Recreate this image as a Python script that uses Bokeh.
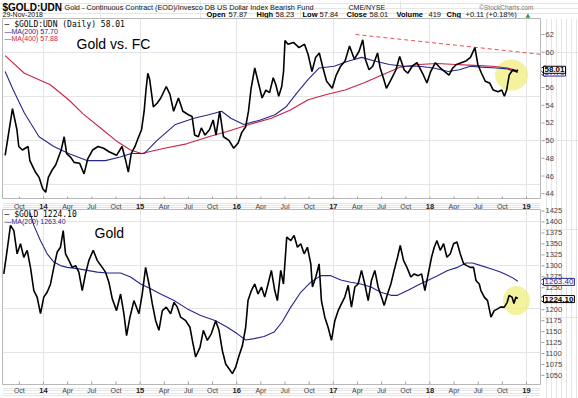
from bokeh.plotting import figure
from bokeh.layouts import column, row
from bokeh.models import Range1d, Label
from bokeh.core.properties import value
from bokeh.embed import file_html
from bokeh.resources import INLINE

# ---------------- data ----------------
ratio_t = [2013.603, 2013.679, 2013.725, 2013.744, 2013.782, 2013.840, 2013.859, 2013.916, 2013.954, 2013.992,
           2014.023, 2014.050, 2014.088, 2014.126, 2014.183, 2014.214, 2014.240, 2014.279, 2014.317, 2014.374,
           2014.420, 2014.458, 2014.508, 2014.565, 2014.622, 2014.679, 2014.756, 2014.813, 2014.851, 2014.878,
           2014.908, 2014.947, 2014.985, 2015.015, 2015.042, 2015.061, 2015.080, 2015.099, 2015.137, 2015.176,
           2015.214, 2015.271, 2015.309, 2015.347, 2015.397, 2015.443, 2015.500, 2015.538, 2015.565, 2015.603,
           2015.634, 2015.672, 2015.718, 2015.756, 2015.786, 2015.824, 2015.863, 2015.920, 2015.969, 2016.015,
           2016.053, 2016.092, 2016.122, 2016.149, 2016.187, 2016.225, 2016.263, 2016.302, 2016.340, 2016.378,
           2016.405, 2016.435, 2016.466, 2016.485, 2016.500, 2016.531, 2016.588, 2016.645, 2016.702, 2016.740,
           2016.779, 2016.817, 2016.855, 2016.893, 2016.931, 2016.989, 2017.027, 2017.076, 2017.122, 2017.168,
           2017.218, 2017.267, 2017.305, 2017.332, 2017.370, 2017.408, 2017.458, 2017.485, 2017.523, 2017.550,
           2017.599, 2017.649, 2017.687, 2017.733, 2017.771, 2017.817, 2017.866, 2017.924, 2017.969, 2018.008,
           2018.057, 2018.107, 2018.153, 2018.198, 2018.237, 2018.275, 2018.324, 2018.374, 2018.420, 2018.466,
           2018.496, 2018.534, 2018.573, 2018.618, 2018.656, 2018.706, 2018.744, 2018.771, 2018.794, 2018.821,
           2018.859, 2018.897, 2018.910]
ratio_v = [48.3, 53.6, 51.2, 49.3, 48.9, 49.3, 47.7, 46.4, 45.8, 44.5,
           44.1, 45.8, 46.6, 47.2, 48.9, 50.4, 48.5, 48.1, 47.5, 47.4,
           46.2, 47.9, 48.9, 49.3, 49.1, 48.7, 48.3, 49.3, 47.7, 46.4,
           48.5, 49.3, 50.4, 51.2, 53.3, 55.7, 57.6, 56.9, 53.8, 54.2,
           54.8, 56.1, 55.2, 53.3, 54.8, 53.3, 52.9, 52.7, 50.6, 50.4,
           51.4, 50.6, 51.2, 52.3, 50.6, 53.3, 50.4, 50.0, 49.1, 49.7,
           50.9, 51.5, 53.3, 55.9, 58.2, 56.5, 54.8, 55.7, 55.4, 57.1,
           56.3, 55.0, 56.1, 57.8, 61.3, 60.9, 61.1, 60.5, 60.9, 59.7,
           57.8, 59.4, 59.9, 58.2, 56.7, 55.9, 57.3, 58.4, 59.0, 60.7,
           59.2, 60.1, 61.4, 59.2, 58.0, 58.4, 59.9, 58.2, 56.9, 55.9,
           56.9, 58.0, 59.5, 58.0, 57.6, 58.4, 58.8, 57.6, 56.5, 57.8,
           58.8, 58.2, 57.8, 57.4, 58.2, 58.6, 58.8, 59.0, 59.4, 60.5,
           58.6, 57.6, 56.7, 56.5, 55.7, 55.5, 55.7, 55.0, 55.7, 57.4,
           58.0, 57.8, 58.01]

ma200_t = [2013.603, 2013.687, 2013.802, 2013.954, 2014.107, 2014.260, 2014.450, 2014.641, 2014.794, 2014.908,
           2015.042, 2015.176, 2015.366, 2015.557, 2015.710, 2015.844, 2015.939, 2016.073, 2016.244, 2016.397,
           2016.511, 2016.626, 2016.740, 2016.855, 2017.008, 2017.160, 2017.294, 2017.427, 2017.580, 2017.733,
           2017.885, 2018.038, 2018.191, 2018.305, 2018.420, 2018.534, 2018.687, 2018.802, 2018.910]
ma200_v = [57.8, 55.7, 53.1, 50.4, 49.3, 48.5, 47.7, 47.7, 48.1, 48.5,
           48.5, 50.0, 51.8, 52.5, 52.9, 53.3, 52.5, 51.8, 52.3, 52.9,
           53.8, 55.4, 56.9, 58.2, 58.4, 59.0, 59.4, 59.0, 58.6, 58.4,
           58.4, 58.2, 57.8, 58.0, 58.4, 58.3, 58.2, 58.1, 57.70]

ma400_t = [2013.603, 2013.802, 2014.070, 2014.260, 2014.410, 2014.590, 2014.770, 2014.900, 2015.015, 2015.252,
           2015.481, 2015.710, 2015.901, 2016.130, 2016.359, 2016.550, 2016.740, 2016.931, 2017.122, 2017.313,
           2017.504, 2017.695, 2017.885, 2018.076, 2018.267, 2018.458, 2018.649, 2018.802, 2018.910]
ma400_v = [59.6, 57.6, 56.3, 54.6, 53.0, 51.4, 49.8, 48.9, 48.5, 49.1,
           49.6, 50.4, 51.0, 51.8, 52.5, 53.4, 54.6, 55.2, 55.7, 56.5,
           57.4, 58.3, 58.6, 58.7, 58.6, 58.5, 58.4, 58.2, 57.88]

trend_t = [2017.23, 2019.145]
trend_v = [62.0, 59.75]

gold_t = [2013.589, 2013.623, 2013.658, 2013.693, 2013.727, 2013.762, 2013.796, 2013.831, 2013.865, 2013.900,
          2013.934, 2013.969, 2014.003, 2014.038, 2014.073, 2014.107, 2014.142, 2014.176, 2014.204, 2014.228,
          2014.263, 2014.297, 2014.332, 2014.366, 2014.401, 2014.435, 2014.470, 2014.515, 2014.556, 2014.608,
          2014.642, 2014.677, 2014.712, 2014.756, 2014.798, 2014.832, 2014.860, 2014.895, 2014.936, 2014.988,
          2015.022, 2015.057, 2015.092, 2015.126, 2015.161, 2015.195, 2015.230, 2015.271, 2015.316, 2015.351,
          2015.385, 2015.420, 2015.472, 2015.516, 2015.541, 2015.575, 2015.620, 2015.655, 2015.696, 2015.737,
          2015.782, 2015.817, 2015.851, 2015.886, 2015.921, 2015.955, 2015.990, 2016.024, 2016.059, 2016.093,
          2016.117, 2016.152, 2016.187, 2016.221, 2016.256, 2016.290, 2016.325, 2016.359, 2016.394, 2016.421,
          2016.456, 2016.484, 2016.518, 2016.560, 2016.594, 2016.629, 2016.663, 2016.698, 2016.732, 2016.767,
          2016.784, 2016.819, 2016.853, 2016.877, 2016.912, 2016.946, 2016.981, 2017.016, 2017.050, 2017.085,
          2017.119, 2017.154, 2017.188, 2017.223, 2017.257, 2017.292, 2017.326, 2017.361, 2017.395, 2017.430,
          2017.464, 2017.499, 2017.527, 2017.561, 2017.596, 2017.630, 2017.665, 2017.693, 2017.727, 2017.762,
          2017.803, 2017.838, 2017.879, 2017.914, 2017.948, 2017.983, 2018.017, 2018.045, 2018.073, 2018.107,
          2018.142, 2018.176, 2018.211, 2018.245, 2018.280, 2018.314, 2018.349, 2018.383, 2018.418, 2018.452,
          2018.477, 2018.511, 2018.528, 2018.563, 2018.597, 2018.632, 2018.666, 2018.701, 2018.729, 2018.770,
          2018.800, 2018.820, 2018.850, 2018.870, 2018.890, 2018.910]
gold_v = [1280, 1333, 1391, 1379, 1326, 1349, 1318, 1334, 1295, 1242,
          1227, 1189, 1227, 1238, 1257, 1295, 1330, 1341, 1379, 1326,
          1311, 1295, 1299, 1284, 1242, 1280, 1311, 1334, 1311, 1295,
          1284, 1261, 1223, 1196, 1234, 1189, 1139, 1181, 1219, 1189,
          1234, 1295, 1257, 1212, 1173, 1151, 1196, 1204, 1189, 1215,
          1204, 1181, 1173, 1158, 1128, 1090, 1112, 1151, 1128, 1143,
          1173, 1151, 1105, 1074, 1063, 1052, 1067, 1093, 1116, 1158,
          1219, 1242, 1257, 1234, 1250, 1227, 1257, 1288, 1242, 1219,
          1288, 1257, 1364, 1356, 1368, 1341, 1349, 1326, 1341, 1303,
          1250, 1273, 1303, 1219, 1181, 1158, 1128, 1173, 1196, 1212,
          1227, 1254, 1204, 1250, 1257, 1288, 1257, 1219, 1265, 1288,
          1250, 1227, 1208, 1234, 1257, 1288, 1318, 1345, 1311, 1295,
          1273, 1280, 1276, 1280, 1242, 1280, 1318, 1341, 1356, 1334,
          1349, 1318, 1326, 1349, 1353, 1326, 1303, 1299, 1295, 1295,
          1265, 1257, 1242, 1227, 1219, 1181, 1196, 1200, 1204, 1204,
          1215, 1231, 1227, 1212, 1227, 1224.10]

gma_t = [2013.860, 2013.900, 2013.969, 2014.038, 2014.107, 2014.176, 2014.245, 2014.349, 2014.453, 2014.556,
         2014.660, 2014.798, 2014.902, 2015.005, 2015.109, 2015.212, 2015.351, 2015.489, 2015.627, 2015.782,
         2015.903, 2016.007, 2016.093, 2016.180, 2016.283, 2016.387, 2016.470, 2016.560, 2016.663, 2016.767,
         2016.870, 2016.974, 2017.078, 2017.181, 2017.285, 2017.389, 2017.492, 2017.596, 2017.665, 2017.769,
         2017.873, 2017.976, 2018.079, 2018.183, 2018.287, 2018.373, 2018.442, 2018.528, 2018.632, 2018.736,
         2018.850, 2018.910]
gma_v = [1420, 1391, 1356, 1326, 1307, 1299, 1295, 1292, 1288, 1284,
         1282, 1282, 1273, 1257, 1246, 1234, 1219, 1200, 1185, 1173,
         1158, 1143, 1129, 1132, 1137, 1147, 1170, 1204, 1238, 1261,
         1276, 1276, 1266, 1261, 1257, 1250, 1238, 1231, 1231, 1242,
         1254, 1265, 1276, 1288, 1295, 1305, 1305, 1299, 1292, 1284,
         1272, 1263.40]

tick_t = [2013.75, 2014.00, 2014.25, 2014.50, 2014.75, 2015.00, 2015.25, 2015.50, 2015.75, 2016.00, 2016.25,
          2016.50, 2016.75, 2017.00, 2017.25, 2017.50, 2017.75, 2018.00, 2018.25, 2018.50, 2018.75, 2019.00]
tick_lbl = ["Oct", "14", "Apr", "Jul", "Oct", "15", "Apr", "Jul", "Oct", "16", "Apr",
            "Jul", "Oct", "17", "Apr", "Jul", "Oct", "18", "Apr", "Jul", "Oct", "19"]
top_yticks = [44, 46, 48, 50, 52, 54, 56, 58, 60, 62]
bot_yticks = [1050, 1075, 1100, 1125, 1150, 1175, 1200, 1225, 1250, 1275, 1300, 1325, 1350, 1375, 1400, 1425]

hl_top_t, hl_top_v = [2018.845], [57.4]
hl_bot_t, hl_bot_v = [2018.896], [1219]

# ---------------- layout constants ----------------
X0, X1 = 2013.5756, 2019.1449
W, H = 578, 398
HDR_H = 18
MAIN_W = 541               # frame x 2..540
SIDE_W = W - MAIN_W        # right label column
TOP_H, STRIP1_H, BOT_H, STRIP2_H = 181, 10, 176, 13
BODY_H = TOP_H + STRIP1_H + BOT_H + STRIP2_H
TOP_Y = (43.29, 63.81)           # frame 18..199
BOT_Y = (1027.1, 1427.3)         # frame 209..384
SIDE_TOP_Y = (20.84, 63.81)      # same scale as the top frame, over the whole side column (18..398)
SIDE_BOT_Y = (997.4, 1864.0)     # same scale as the bottom frame, over the whole side column

SANS = "Liberation Sans"
MONO = "DejaVu Sans Mono"
NAVY = "#26268c"
RED = "#cc2244"
TICK = "#a0a0a0"


def bare(width, height, xr, yr, **borders):
    b = dict(min_border_left=0, min_border_right=0, min_border_top=0, min_border_bottom=0)
    b.update(borders)
    p = figure(width=width, height=height, x_range=xr, y_range=yr, x_axis_location=None, y_axis_location=None,
               output_backend="svg", toolbar_location=None, **b)
    p.outline_line_color = None
    p.background_fill_color = "white"
    p.border_fill_color = "white"
    return p


def main_panel(h, yr, bt, bb):
    p = bare(MAIN_W, h, Range1d(X0, X1), yr, min_border_left=2, min_border_right=1,
             min_border_top=bt, min_border_bottom=bb)
    p.outline_line_color = "#b8b8b8"
    p.scatter(x=tick_t, y=[yr.start] * len(tick_t), marker="dash", size=6, angle=1.5708,
              line_color=TICK, line_width=1)
    return p


def x_strip(h, ypos):
    p = bare(MAIN_W, h, Range1d(X0, X1), Range1d(0, 1), min_border_left=2, min_border_right=1)
    yr_t = [t for t, l in zip(tick_t, tick_lbl) if l.isdigit()]
    yr_l = [l for l in tick_lbl if l.isdigit()]
    mo_t = [t for t, l in zip(tick_t, tick_lbl) if not l.isdigit()]
    mo_l = [l for l in tick_lbl if not l.isdigit()]
    p.text(x=mo_t, y=[ypos] * len(mo_t), text=mo_l, text_align="center", text_baseline="middle",
           text_font=value(SANS), text_font_size="7px", text_color="#444444")
    p.text(x=yr_t, y=[ypos] * len(yr_t), text=yr_l, text_align="center", text_baseline="middle",
           text_font=value(SANS), text_font_size="7.5px", text_font_style="bold", text_color="#222222")
    return p


# ---------------- header ----------------
header = bare(W, HDR_H, Range1d(0, W), Range1d(0, HDR_H))
L1, L2 = HDR_H - 6.6, HDR_H - 13.6
hdr = [
    ("$GOLD:UDN", 2, L1, "'Liberation Sans Narrow', 'Liberation Sans'", "10px", "bold", "black"),
    ("Gold - Continuous Contract (EOD)/Invesco DB US Dollar Index Bearish Fund", 64, L1, SANS, "7.3px", "normal", "#111111"),
    ("CME/NYSE", 348, L1, SANS, "7px", "normal", "#111111"),
    ("29-Nov-2018", 2, L2, SANS, "7px", "normal", "#111111"),
    ("Open", 206, L2, SANS, "7.5px", "bold", "black"),
    ("57.87", 228, L2, SANS, "7.5px", "normal", "#111111"),
    ("High", 256, L2, SANS, "7.5px", "bold", "black"),
    ("58.23", 275, L2, SANS, "7.5px", "normal", "#111111"),
    ("Low", 302, L2, SANS, "7.5px", "bold", "black"),
    ("57.84", 319, L2, SANS, "7.5px", "normal", "#111111"),
    ("Close", 346, L2, SANS, "7.5px", "bold", "black"),
    ("58.01", 369, L2, SANS, "7.5px", "normal", "#111111"),
    ("Volume", 396, L2, SANS, "7.5px", "bold", "black"),
    ("419", 428, L2, SANS, "7.5px", "normal", "#111111"),
    ("Chg", 446, L2, SANS, "7.5px", "bold", "black"),
    ("+0.11 (+0.18%)", 465, L2, SANS, "7.5px", "normal", "#111111"),
]
for txt, x, y, fnt, fs, st, col in hdr:
    header.add_layout(Label(x=x, y=y, text=txt, text_baseline="middle", text_font=fnt, text_font_size=fs,
                            text_font_style=st, text_color=col))
header.add_layout(Label(x=525, y=L2, text="\u25b2", text_baseline="middle", text_font="DejaVu Sans",
                        text_font_size="6px", text_color="#2e9e3e"))
header.add_layout(Label(x=533, y=L1, text="\u00a9StockCharts.com", text_align="right", text_baseline="middle",
                        text_font=SANS, text_font_size="6.5px", text_color="#777777"))

# ---------------- top panel ----------------
top_yr = Range1d(*TOP_Y)
top = main_panel(TOP_H, top_yr, 0, 0)
top.ellipse(x=hl_top_t, y=hl_top_v, width=33, height=31, width_units="screen", height_units="screen",
            fill_color="#f2ee7c", fill_alpha=0.75, line_color=None)
top.line(trend_t, trend_v, line_color="#e8504f", line_dash="4 3", line_width=1)
top.line(ma400_t, ma400_v, line_color=RED, line_width=1.1)
top.line(ma200_t, ma200_v, line_color=NAVY, line_width=1.1)
top.line(ratio_t, ratio_v, line_color="black", line_width=1.6)

ytop = TOP_Y[1]
top.add_layout(Label(x=X0, y=ytop, text="\u2014 $GOLD:UDN (Daily) 58.01", x_offset=2, y_offset=-6,
                     text_baseline="middle", text_font=MONO, text_font_size="8px", text_color="black"))
top.add_layout(Label(x=X0, y=ytop, text="\u2014MA(200) 57.70", x_offset=2, y_offset=-13,
                     text_baseline="middle", text_font=SANS, text_font_size="7px", text_color=NAVY))
top.add_layout(Label(x=X0, y=ytop, text="\u2014MA(400) 57.88", x_offset=2, y_offset=-20,
                     text_baseline="middle", text_font=SANS, text_font_size="7px", text_color=RED))
top.add_layout(Label(x=X0, y=ytop, text="Gold vs. FC", x_offset=74, y_offset=-25,
                     text_baseline="middle", text_font=SANS, text_font_size="14px", text_color="black"))

strip1 = x_strip(STRIP1_H, 0.55)

# ---------------- bottom panel ----------------
bot_yr = Range1d(*BOT_Y)
bot = main_panel(BOT_H, bot_yr, 0, 1)
bot.ellipse(x=hl_bot_t, y=hl_bot_v, width=27, height=29, width_units="screen", height_units="screen",
            fill_color="#f2ee7c", fill_alpha=0.75, line_color=None)
bot.line(gma_t, gma_v, line_color=NAVY, line_width=1.1)
bot.line(gold_t, gold_v, line_color="black", line_width=1.6)

ybot = BOT_Y[1]
bot.add_layout(Label(x=X0, y=ybot, text="\u2014 $GOLD 1224.10", x_offset=2, y_offset=-5,
                     text_baseline="middle", text_font=MONO, text_font_size="8px", text_color="black"))
bot.add_layout(Label(x=X0, y=ybot, text="\u2014MA(200) 1263.40", x_offset=2, y_offset=-12,
                     text_baseline="middle", text_font=SANS, text_font_size="7px", text_color=NAVY))
bot.add_layout(Label(x=X0, y=ybot, text="Gold", x_offset=92, y_offset=-23,
                     text_baseline="middle", text_font=SANS, text_font_size="14px", text_color="black"))

strip2 = x_strip(STRIP2_H, 0.62)

# ---------------- right label column (shared by both panels) ----------------
side = bare(SIDE_W, BODY_H, Range1d(0, SIDE_W), Range1d(*SIDE_TOP_Y))
side.extra_y_ranges = {"bot": Range1d(*SIDE_BOT_Y)}
for ticks, rng in ((top_yticks, "default"), (bot_yticks, "bot")):
    side.scatter(x=[0] * len(ticks), y=ticks, marker="dash", size=6, line_color=TICK, line_width=1,
                 y_range_name=rng)
    side.text(x=[4] * len(ticks), y=ticks, text=[str(v) for v in ticks], text_baseline="middle",
              text_font=value(SANS), text_font_size="7.5px", text_color="#444444", y_range_name=rng)

boxes = [(57.70, "57.70", NAVY, False, "default"), (58.01, "58.01", "black", True, "default"),
         (1263.40, "1263.40", NAVY, False, "bot"), (1224.10, "1224.10", "black", True, "bot")]
for yv, txt, col, bold, rng in boxes:
    side.scatter(x=[1.5], y=[yv], marker="triangle", angle=1.5708, size=8, fill_color="white",
                 line_color=col, line_width=1, y_range_name=rng)
    side.add_layout(Label(x=2, y=yv, text=txt, text_baseline="middle", text_font=SANS, text_font_size="8px",
                          text_font_style="bold" if bold else "normal", text_color=col, y_range_name=rng,
                          border_line_color=col, background_fill_color="white", padding=1))

layout = column(header,
                row(column(top, strip1, bot, strip2, spacing=0), side, spacing=0),
                spacing=0)
open("out.html", "w").write(file_html(layout, INLINE))
